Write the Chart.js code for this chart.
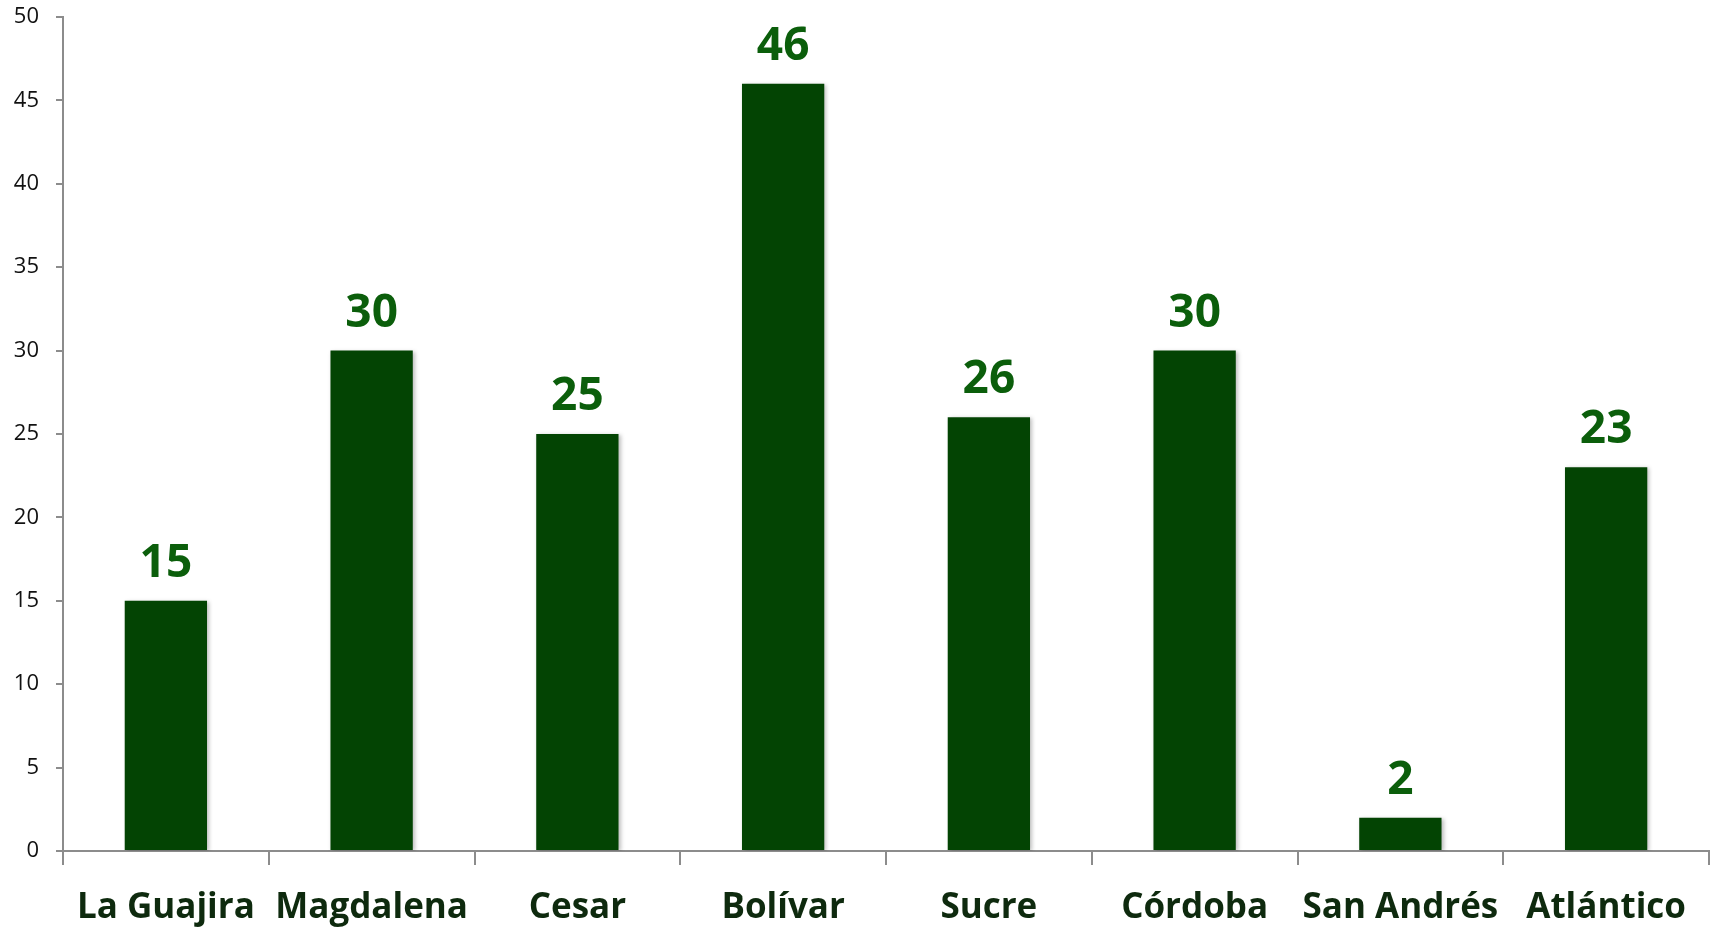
<!DOCTYPE html>
<html>
<head>
<meta charset="utf-8">
<script src="https://cdn.jsdelivr.net/npm/chart.js@4"></script>
<style>
html,body{margin:0;padding:0;background:#fff;}
#wrap{width:1715px;height:927px;position:relative;}
</style>
</head>
<body>
<div id="wrap"><canvas id="c" width="1715" height="927"></canvas></div>
<script>
const categories = ["La Guajira", "Magdalena", "Cesar", "Bolívar", "Sucre", "Córdoba", "San Andrés", "Atlántico"];
const values = [15, 30, 25, 46, 26, 30, 2, 23];
const yTicks = [0, 5, 10, 15, 20, 25, 30, 35, 40, 45, 50];

const barColor = "#034403";
const labelColor = "#0b5e0b";
const catColor = "#0e2a0e";
const axisColor = "#8c8c8c";
const FONT = "'Open Sans', 'DejaVu Sans', sans-serif";

const valueLabels = {
  id: "valueLabels",
  afterDatasetsDraw(chart) {
    const ctx = chart.ctx;
    const meta = chart.getDatasetMeta(0);
    ctx.save();
    ctx.fillStyle = labelColor;
    ctx.font = "bold 46px " + FONT;
    ctx.textAlign = "center";
    ctx.textBaseline = "alphabetic";
    meta.data.forEach((bar, i) => {
      ctx.fillText(String(values[i]), bar.x, bar.y - 24);
    });
    ctx.restore();
  }
};

const barShadow = {
  id: "barShadow",
  beforeDatasetsDraw(chart) {
    chart.ctx.save();
    chart.ctx.shadowColor = "rgba(0,0,0,0.25)";
    chart.ctx.shadowBlur = 4;
    chart.ctx.shadowOffsetX = 2;
    chart.ctx.shadowOffsetY = 1;
  },
  afterDatasetsDraw(chart) {
    chart.ctx.restore();
  }
};

new Chart(document.getElementById("c"), {
  type: "bar",
  data: {
    labels: categories,
    datasets: [{
      data: values,
      backgroundColor: barColor,
      borderWidth: 0,
      categoryPercentage: 1.0,
      barPercentage: 0.4
    }]
  },
  options: {
    responsive: false,
    animation: false,
    devicePixelRatio: 1,
    layout: { padding: { left: 0, right: 6, top: 17, bottom: 0 } },
    plugins: { legend: { display: false }, tooltip: { enabled: false } },
    scales: {
      x: {
        offset: true,
        grid: {
          display: true,
          offset: true,
          drawOnChartArea: false,
          drawTicks: true,
          tickLength: 14,
          color: axisColor,
          lineWidth: 2
        },
        border: { display: true, color: axisColor, width: 2 },
        ticks: {
          color: catColor,
          font: { family: FONT, size: 35, weight: "bold" },
          padding: 22,
          maxRotation: 0,
          autoSkip: false
        },
        afterFit(scale) { scale.height = 76; scale.paddingLeft = 0; scale.paddingRight = 0; }
      },
      y: {
        min: 0,
        max: 50,
        afterBuildTicks(scale) { scale.ticks = yTicks.map(v => ({ value: v })); },
        grid: {
          display: true,
          drawOnChartArea: false,
          drawTicks: true,
          tickLength: 7,
          color: axisColor,
          lineWidth: 2
        },
        border: { display: true, color: axisColor, width: 2 },
        ticks: {
          color: "#111",
          font: { family: FONT, size: 22 },
          padding: 17
        },
        afterFit(scale) { scale.width = 63; scale.paddingTop = 0; scale.paddingBottom = 0; }
      }
    }
  },
  plugins: [barShadow, valueLabels]
});
</script>
</body>
</html>
